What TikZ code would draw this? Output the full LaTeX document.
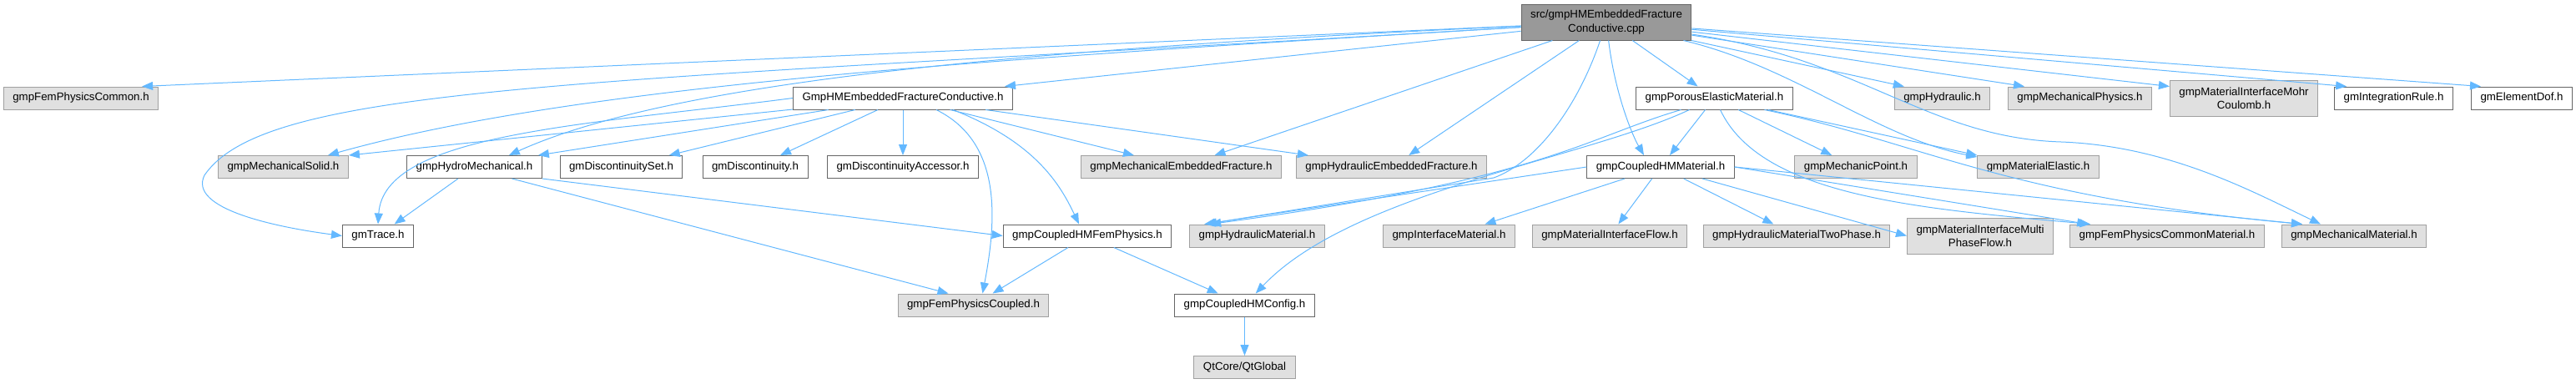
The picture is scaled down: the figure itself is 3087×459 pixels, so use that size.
\documentclass[tikz,border=0pt]{standalone}
\usepackage{fontspec}
\setmainfont{Liberation Sans}
\usepackage{tikz}
\usetikzlibrary{arrows.meta}
\definecolor{edgeblue}{HTML}{63B8FF}
\definecolor{boxgray}{HTML}{E0E0E0}
\definecolor{rootgray}{HTML}{999999}
\definecolor{darkline}{HTML}{666666}
\definecolor{lightline}{HTML}{A0A0A0}

\begin{document}
\begin{tikzpicture}[x=1pt,y=-1pt,line width=1pt]
		\tikzstyle{file}=[draw=darkline,fill=white,rectangle,inner xsep=11pt,inner ysep=0pt,minimum height=27pt,align=center,font=\fontsize{13.3}{16.5}\selectfont]
		\tikzstyle{ext}=[file,draw=lightline,fill=boxgray]
		\tikzstyle{root}=[file,fill=rootgray,minimum height=43pt]
		\tikzstyle{inc}=[draw=edgeblue,-{Triangle[length=13pt,width=10pt]}]
		\useasboundingbox (0,0) rectangle (3087,459);
		% row 0
		\node[root] (cpp) at (1925,26.5) {src/gmpHMEmbeddedFracture\\Conductive.cpp};
		% row 1
		\node[ext] (femcommon) at (97,117.5) {gmpFemPhysicsCommon.h};
		\node[file] (fracH) at (1082,117.5) {GmpHMEmbeddedFractureConductive.h};
		\node[file] (porous) at (2054.5,117.5) {gmpPorousElasticMaterial.h};
		\node[ext] (hydraulic) at (2327.5,117.5) {gmpHydraulic.h};
		\node[ext] (mechphys) at (2492.5,117.5) {gmpMechanicalPhysics.h};
		\node[ext,minimum height=43pt] (mohr) at (2689,117.5) {gmpMaterialInterfaceMohr\\Coulomb.h};
		\node[file] (introle) at (2868.5,117.5) {gmIntegrationRule.h};
		\node[file] (elemdof) at (3022,117.5) {gmElementDof.h};
		% row 2
		\node[ext] (mechsolid) at (339.5,200) {gmpMechanicalSolid.h};
		\node[file] (hydromech) at (568.5,200) {gmpHydroMechanical.h};
		\node[file] (discset) at (744.5,200) {gmDiscontinuitySet.h};
		\node[file] (disc) at (905,200) {gmDiscontinuity.h};
		\node[file] (discacc) at (1082,200) {gmDiscontinuityAccessor.h};
		\node[ext] (mechemb) at (1415.5,200) {gmpMechanicalEmbeddedFracture.h};
		\node[ext] (hydemb) at (1667.5,200) {gmpHydraulicEmbeddedFracture.h};
		\node[file] (coupledhm) at (1990,200) {gmpCoupledHMMaterial.h};
		\node[ext] (mechpoint) at (2224,200) {gmpMechanicPoint.h};
		\node[ext] (matelastic) at (2442.5,200) {gmpMaterialElastic.h};
		% row 3
		\node[file] (trace) at (453,282.5) {gmTrace.h};
		\node[file] (coupledfem) at (1303,282.5) {gmpCoupledHMFemPhysics.h};
		\node[ext] (hydmat) at (1506.5,282.5) {gmpHydraulicMaterial.h};
		\node[ext] (ifmat) at (1736.5,282.5) {gmpInterfaceMaterial.h};
		\node[ext] (ifflow) at (1929,282.5) {gmpMaterialInterfaceFlow.h};
		\node[ext] (twophase) at (2153,282.5) {gmpHydraulicMaterialTwoPhase.h};
		\node[ext,minimum height=43pt] (multiphase) at (2373,282.5) {gmpMaterialInterfaceMulti\\PhaseFlow.h};
		\node[ext] (femcommonmat) at (2597,282.5) {gmpFemPhysicsCommonMaterial.h};
		\node[ext] (mechmat) at (2821,282.5) {gmpMechanicalMaterial.h};
		% row 4 and 5
		\node[ext] (femcoupled) at (1166.5,365.5) {gmpFemPhysicsCoupled.h};
		\node[file] (config) at (1491.5,365.5) {gmpCoupledHMConfig.h};
		\node[ext] (qtglobal) at (1491.5,440) {QtCore/QtGlobal};
		\coordinate (tr1) at (245,210);
		\coordinate (hm1) at (1790,213);
		\coordinate (mm1) at (2470,170);

		% includes of the .cpp
		\draw[inc] (cpp) -- ([xshift=-20pt]femcommon.north east);
		\draw[inc] (cpp) .. controls (700,100) and (320,100) .. (tr1) .. controls (225,250) and (330,272) .. (trace.west);
		\draw[inc] (cpp) .. controls (1200,70) and (700,100) .. ([xshift=-25pt]mechsolid.north east);
		\draw[inc] (cpp) .. controls (1200,60) and (800,100) .. ([xshift=-40pt]hydromech.north east);
		\draw[inc] (cpp) -- ([xshift=-10pt]fracH.north east);
		\draw[inc] (cpp) -- ([xshift=40pt]mechemb.north);
		\draw[inc] (cpp) -- (hydemb);
		\draw[inc] (cpp) .. controls (1890,130) and (1840,195) .. (hm1) -- ([xshift=20pt]hydmat.north west);
		\draw[inc] (cpp) -- (porous);
		\draw[inc] (cpp) .. controls (1935,110) and (1955,160) .. ([xshift=-20pt]coupledhm.north);
		\draw[inc] (cpp) -- ([xshift=12pt]hydraulic.north west);
		\draw[inc] (cpp) -- ([xshift=20pt]mechphys.north west);
		\draw[inc] (cpp) -- ([yshift=-8pt]mohr.north west);
		\draw[inc] (cpp) -- ([xshift=15pt]introle.north west);
		\draw[inc] (cpp) -- ([xshift=12pt]elemdof.north west);
		\draw[inc] (cpp) .. controls (2150,80) and (2250,165) .. ([yshift=-2pt]matelastic.north west);
		\draw[inc] (cpp) .. controls (2230,70) and (2310,165) .. (mm1) .. controls (2600,175) and (2700,230) .. ([xshift=-40pt]mechmat.north);

		% GmpHMEmbeddedFractureConductive.h
		\draw[inc] (fracH) -- (mechsolid.north east);
		\draw[inc] (fracH.west) .. controls (700,150) and (460,160) .. (trace.north);
		\draw[inc] (fracH) -- ([xshift=-5pt]hydromech.north east);
		\draw[inc] (fracH) -- (discset);
		\draw[inc] (fracH) -- (disc);
		\draw[inc] (fracH) -- (discacc);
		\draw[inc] (fracH) -- (mechemb);
		\draw[inc] (fracH) -- ([xshift=15pt]hydemb.north west);
		\draw[inc] ([xshift=60pt]fracH.south) .. controls (1240,170) and (1270,220) .. ([xshift=-10pt]coupledfem.north);
		\draw[inc] ([xshift=40pt]fracH.south) .. controls (1200,170) and (1195,260) .. ([xshift=-80pt]femcoupled.north east);

		% gmpHydroMechanical.h
		\draw[inc] (hydromech) -- (trace);
		\draw[inc] (hydromech.south east) -- (coupledfem.west);
		\draw[inc] ([xshift=45pt]hydromech.south) -- ([xshift=-30pt]femcoupled.north);

		% gmpCoupledHMFemPhysics.h
		\draw[inc] (coupledfem) -- (femcoupled);
		\draw[inc] (coupledfem) -- (config);
		\draw[inc] (config) -- (qtglobal);

		% gmpPorousElasticMaterial.h
		\draw[inc] (porous) -- (coupledhm);
		\draw[inc] ([xshift=-40pt]porous.south) .. controls (1900,165) and (1850,215) .. ([xshift=25pt]hydmat.north west);
		\draw[inc] ([xshift=-30pt]porous.south) .. controls (1900,190) and (1620,230) .. (config);
		\draw[inc] (porous) -- (mechpoint);
		\draw[inc] (porous) -- (matelastic.north west);
		\draw[inc] ([xshift=7pt]porous.south) .. controls (2110,235) and (2300,250) .. ([xshift=25pt]femcommonmat.north west);
		\draw[inc] ([xshift=60pt]porous.south) .. controls (2300,170) and (2400,235) .. ([xshift=-62pt]mechmat.north);

		% gmpCoupledHMMaterial.h
		\draw[inc] (coupledhm.west) -- ([xshift=18pt]hydmat.north west);
		\draw[inc] (coupledhm) -- (ifmat);
		\draw[inc] (coupledhm) -- (ifflow);
		\draw[inc] (coupledhm) -- (twophase);
		\draw[inc] (coupledhm) -- (multiphase.west);
		\draw[inc] (coupledhm.east) -- ([xshift=22pt]femcommonmat.north west);
		\draw[inc] (coupledhm.east) -- ([xshift=-62pt]mechmat.north);
	\end{tikzpicture}
\end{document}
